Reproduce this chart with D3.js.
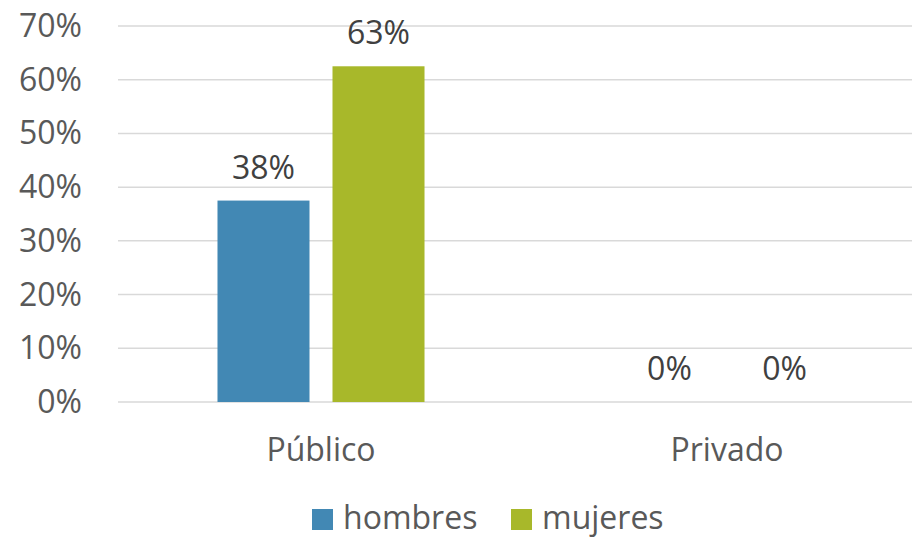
<!DOCTYPE html>
<html>
<head>
<meta charset="utf-8">
<script src="https://cdn.jsdelivr.net/npm/d3@7"></script>
<style>
  html, body { margin: 0; padding: 0; background: #fff; }
  svg { display: block; font-family: "Open Sans", "Noto Sans", sans-serif; }
</style>
</head>
<body>
<div id="chart"></div>
<script>
// Data
const categories = ['Público', 'Privado'];
const seriesNames = ['hombres', 'mujeres'];
const hombres = [0.375, 0];
const mujeres = [0.625, 0];
const dataLabels = [['38%', '0%'], ['63%', '0%']];
const yTicks = [0, 0.1, 0.2, 0.3, 0.4, 0.5, 0.6, 0.7];

const colors = { hombres: '#4288B4', mujeres: '#A8B82A' };

function renderChart() {
  const width = 912;
  const height = 537;
  const plot = { left: 118, right: 930, top: 26, bottom: 402 };
  const fontSize = '32px';

  const svg = d3.select('#chart')
    .append('svg')
    .attr('width', width)
    .attr('height', height);

  const y = d3.scaleLinear()
    .domain([0, 0.7])
    .range([plot.bottom, plot.top]);

  const x0 = d3.scaleBand()
    .domain(categories)
    .range([plot.left, plot.right]);

  const x1 = d3.scaleBand()
    .domain(seriesNames)
    .range([0, x0.bandwidth()])
    .paddingInner(0.2)
    .paddingOuter(0.865);

  // Gridlines
  svg.append('g')
    .selectAll('line')
    .data(yTicks)
    .join('line')
    .attr('x1', plot.left)
    .attr('x2', plot.right)
    .attr('y1', d => y(d))
    .attr('y2', d => y(d))
    .attr('stroke', '#D9D9D9')
    .attr('stroke-width', 1.5);

  // Y axis labels
  svg.append('g')
    .selectAll('text')
    .data(yTicks)
    .join('text')
    .attr('x', 82)
    .attr('y', d => y(d) + 11)
    .attr('text-anchor', 'end')
    .attr('fill', '#595959')
    .attr('font-size', fontSize)
    .text(d => d3.format('.0%')(d));

  // Bars
  const rows = categories.map((c, i) => ({
    category: c,
    values: [
      { series: 'hombres', value: hombres[i], label: dataLabels[0][i] },
      { series: 'mujeres', value: mujeres[i], label: dataLabels[1][i] }
    ]
  }));

  const groups = svg.append('g')
    .selectAll('g')
    .data(rows)
    .join('g')
    .attr('transform', d => `translate(${x0(d.category)},0)`);

  groups.selectAll('rect')
    .data(d => d.values)
    .join('rect')
    .attr('x', d => x1(d.series))
    .attr('y', d => y(d.value))
    .attr('width', x1.bandwidth())
    .attr('height', d => y(0) - y(d.value))
    .attr('fill', d => colors[d.series]);

  // Value labels
  groups.selectAll('text')
    .data(d => d.values)
    .join('text')
    .attr('x', d => x1(d.series) + x1.bandwidth() / 2)
    .attr('y', d => y(d.value) - 22)
    .attr('text-anchor', 'middle')
    .attr('fill', '#404040')
    .attr('font-size', fontSize)
    .text(d => d.label);

  // Category labels
  svg.append('g')
    .selectAll('text')
    .data(categories)
    .join('text')
    .attr('x', d => x0(d) + x0.bandwidth() / 2)
    .attr('y', 461)
    .attr('text-anchor', 'middle')
    .attr('fill', '#595959')
    .attr('font-size', fontSize)
    .text(d => d);

  // Legend
  const legendX = [312, 511];
  const legend = svg.append('g')
    .selectAll('g')
    .data(seriesNames)
    .join('g')
    .attr('transform', (d, i) => `translate(${legendX[i]},509)`);

  legend.append('rect')
    .attr('width', 21)
    .attr('height', 21)
    .attr('fill', d => colors[d]);

  legend.append('text')
    .attr('x', 31)
    .attr('y', 20)
    .attr('fill', '#595959')
    .attr('font-size', fontSize)
    .text(d => d);
}

renderChart();
</script>
</body>
</html>
